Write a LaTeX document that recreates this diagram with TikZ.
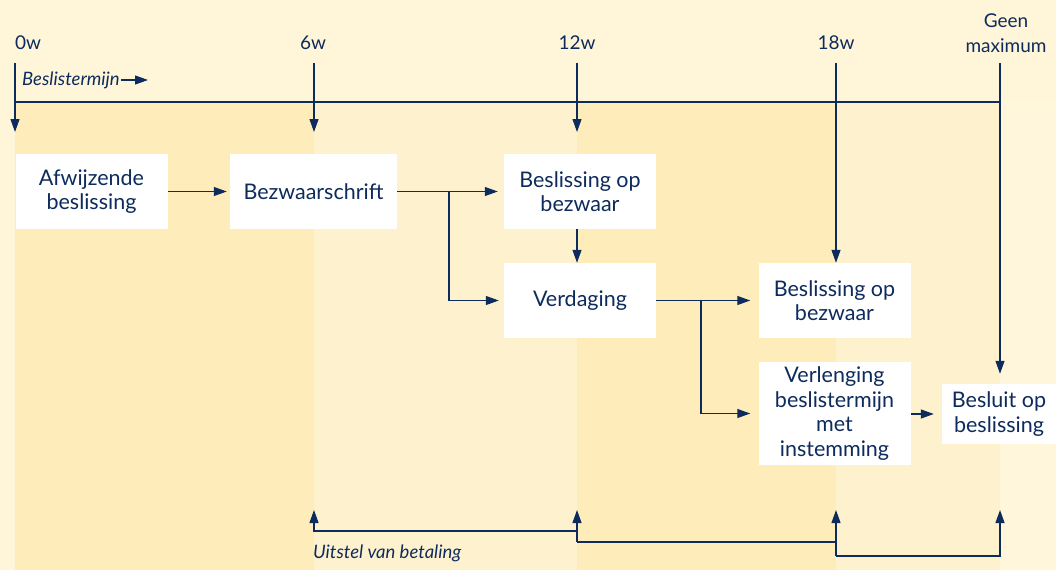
\documentclass[tikz,border=0pt]{standalone}
\usepackage{fontspec}
\setmainfont{Lato}
\usetikzlibrary{arrows.meta}
\definecolor{navy}{HTML}{0D2B5C}
\definecolor{cream}{HTML}{FFF6DA}
\definecolor{bandA}{HTML}{FEEDBB}
\definecolor{bandB}{HTML}{FEF2CE}
\definecolor{creamR}{HTML}{FFF6DC}
\tikzset{
  box/.style={fill=white, draw=none, align=center, text=navy, font=\fontsize{21.5}{24.5}\selectfont, inner sep=0pt},
  lbl/.style={text=navy, font=\fontsize{19}{25}\selectfont, align=center, inner sep=0pt},
  itl/.style={text=navy, font=\fontsize{18.5}{21}\selectfont\itshape, inner sep=0pt},
  ln/.style={draw=navy, line width=1.2pt},
  arr/.style={ln, -{Triangle[length=13pt,width=9pt]}},
}
\begin{document}
\begin{tikzpicture}[x=1pt,y=-1pt]
\useasboundingbox (0,0) rectangle (1056,570);
% background
\fill[cream] (0,0) rectangle (1056,570);
\fill[bandA] (15,102) rectangle (314,570);
\fill[bandB] (314,102) rectangle (577,570);
\fill[bandA] (577,102) rectangle (836,570);
\fill[bandB] (836,102) rectangle (1000,570);
\fill[creamR] (1000,102) rectangle (1056,570);

% time labels
\node[lbl] (l0) at (28,43) {0w};
\node[lbl] (l6) at (313,43) {6w};
\node[lbl] (l12) at (577,43) {12w};
\node[lbl] (l18) at (836,43) {18w};
\node[lbl] (lg) at (1006,33) {Geen\\maximum};

% timeline coordinates
\coordinate (t0) at (15,63);
\coordinate (t6) at (314,63);
\coordinate (t12) at (577,63);
\coordinate (t18) at (836,63);
\coordinate (tg) at (1000,63);
\coordinate (h0) at (15,102);
\coordinate (hg) at (1000,102);
\coordinate (a0) at (15,132);
\coordinate (a6) at (314,132);
\coordinate (a12) at (577,132);

\draw[ln] (h0) -- (hg);
\draw[arr] (t0) -- (a0);
\draw[arr] (t6) -- (a6);
\draw[arr] (t12) -- (a12);

\node[itl, anchor=west] (bt) at (22,80) {Beslistermijn};
\coordinate (bta) at (148,80);
\draw[arr] (bt.east) ++(1pt,0) coordinate (bts) (bts) -- (bta);

% boxes
\node[box, minimum width=152pt, minimum height=75pt] (afw) at (91.5,191.5) {Afwijzende\\beslissing};
\node[box, minimum width=167pt, minimum height=75pt] (bez) at (313.5,191.5) {Bezwaarschrift};
\node[box, minimum width=152pt, minimum height=75pt] (bob1) at (580,191.5) {Beslissing op\\bezwaar};
\node[box, minimum width=152pt, minimum height=75pt] (verd) at (580,300.5) {Verdaging};
\node[box, minimum width=152pt, minimum height=75pt] (bob2) at (834.5,300.5) {Beslissing op\\bezwaar};
\node[box, minimum width=152pt, minimum height=103pt] (verl) at (834.5,413.5) {Verlenging\\beslistermijn\\met\\instemming};
\node[box, minimum width=114pt, minimum height=60pt] (besl) at (999,414) {Besluit op\\beslissing};

% connectors
\draw[arr, shorten >=3pt] (afw.east) -- (bez.west);
\draw[arr, shorten >=6pt] (bez.east) -- (bob1.west);
\coordinate (br1) at (449,191.5);
\draw[arr, shorten >=5pt] (br1) |- (verd.west);
\draw[arr] (bob1.south -| a12) -- (verd.north -| a12);
\draw[arr, shorten >=8pt] (verd.east) -- (bob2.west);
\coordinate (br2) at (701,300.5);
\draw[arr, shorten >=8pt] (br2) |- (verl.west);
\draw[arr, shorten >=8pt] (verl.east |- besl.west) -- (besl.west);
\draw[arr] (t18) -- (bob2.north -| t18);
\draw[arr, shorten >=10pt] (tg) -- (besl.north -| tg);

% bottom
\coordinate (u6) at (314,510);
\coordinate (u12) at (577,510);
\coordinate (u18) at (836,510);
\coordinate (ug) at (1000,510);
\coordinate (m12) at (577,531);
\coordinate (n12) at (577,542);
\coordinate (n18) at (836,542);
\coordinate (p18) at (836,556);
\draw[arr] (m12) -| (u6);
\draw[arr] (n12) -- (u12);
\draw[ln] (n12) -- (n18);
\draw[arr] (p18) -- (u18);
\draw[arr] (p18) -| (ug);
\node[itl, anchor=west] (uit) at (313,553) {Uitstel van betaling};
\end{tikzpicture}
\end{document}
